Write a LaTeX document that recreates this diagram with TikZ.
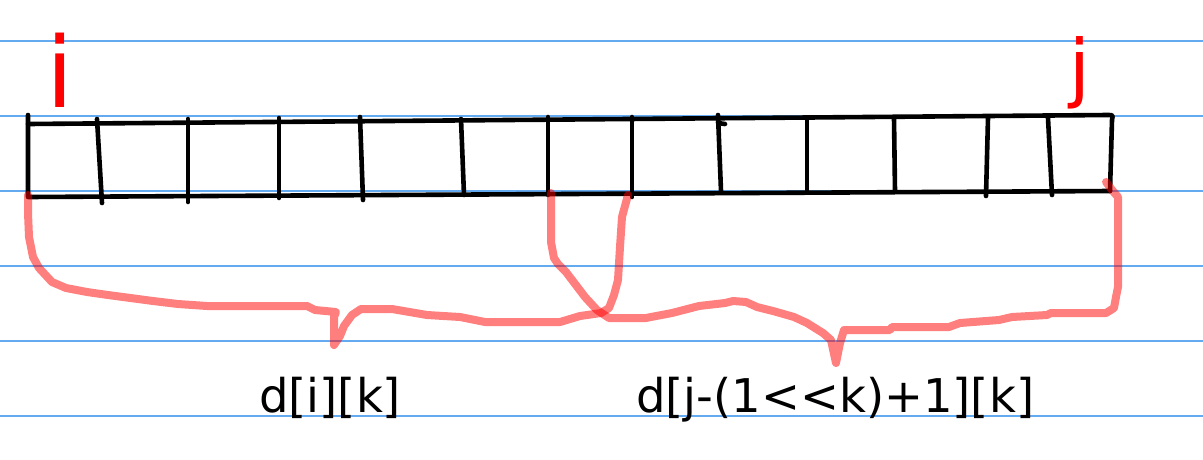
\documentclass[tikz,border=0pt]{standalone}
\usepackage{fontspec}
\setmainfont{DejaVu Sans}
\begin{document}
\begin{tikzpicture}[x=1pt,y=-1pt,
  ruled/.style={line width=1.3pt},
  ink/.style={draw=black, line width=4.6pt, line cap=round, line join=round},
  brace/.style={draw=red, draw opacity=0.5, line width=8pt, line cap=round, line join=round},
  idx/.style={text=red, inner sep=0pt},
  lab/.style={inner sep=0pt, font=\fontsize{46.5}{56}\selectfont}]
\useasboundingbox (0,0) rectangle (1203,459);
\fill[white] (0,0) rectangle (1203,459);
% ruled lines
\foreach \y in {41,116,191,266,341,416}
  \draw[ruled, draw={rgb,255:red,100;green,170;blue,240}] (0,\y) -- (1203,\y);
% array box
\draw[ink] (28,115) -- (28,197) -- (1110,191);
\draw[ink] (28,124) -- (1108,115) .. controls (1113,115) .. (1112,120) -- (1110,191);
% dividers
\draw[ink] (97,119) -- (102,203);
\draw[ink] (188,119) -- (188,202);
\draw[ink] (279,118) -- (279,198);
\draw[ink] (360,117) -- (363,200);
\draw[ink] (461,119) -- (464,195);
\draw[ink] (548,117) -- (548,195);
\draw[ink] (632,117) -- (632,197);
\draw[ink] (718,115) -- (721,191);
\draw[ink] (718,123) -- (725,124);
\draw[ink] (807,118) -- (807,192);
\draw[ink] (894,118) -- (895,191);
\draw[ink] (988,118) -- (986,196);
\draw[ink] (1048,118) -- (1052,195);
% index labels
\node[idx, anchor=base, font=\fontsize{98}{110}\selectfont] (li) at (60,107) {i};
\node[idx, anchor=base, font=\fontsize{75}{90}\selectfont] (lj) at (1080,93) {j};
% brace 1: d[i][k]
\draw[brace] (28,195) -- (28,213) -- (29,237) -- (33,257) -- (39,268) -- (52,282) -- (66,288)
  -- (87,292) -- (108,295) -- (153,301) -- (178,304) -- (207,306) -- (307,306) -- (315,310)
  -- (336,312) -- (334,317) -- (334,345) -- (340,336) -- (344,326) -- (352,315) -- (361,309)
  -- (392,309) -- (427,315) -- (460,317) -- (485,322) -- (560,322) -- (580,316) -- (601,313)
  -- (609,308) -- (614,295) -- (618,280) -- (620,247) -- (622,217) -- (628,195);
% brace 2: d[j-(1<<k)+1][k]
\draw[brace] (551,193) -- (551,242) -- (554,258) -- (558,264) -- (566,272) -- (585,297)
  -- (597,310) -- (609,318) -- (646,318) -- (651,317) -- (672,313) -- (699,306) -- (725,303)
  -- (733,301) -- (746,302) -- (757,307) -- (773,311) -- (794,317) -- (807,323) -- (823,333)
  -- (831,340) -- (836,363) -- (840,343) -- (844,330) -- (890,330) -- (892,327) -- (949,327)
  -- (960,323) -- (999,320) -- (1012,317) -- (1047,315) -- (1051,313) -- (1106,313)
  -- (1114,308) -- (1116,297) -- (1118,287) -- (1118,197) -- (1112,190) -- (1106,182);
% labels
\node[lab, anchor=base west] (la) at (259,412) {d[i][k]};
\node[lab, anchor=base west] (lb) at (636,412) {d[j-(1<{}<k)+1][k]};
\end{tikzpicture}
\end{document}
